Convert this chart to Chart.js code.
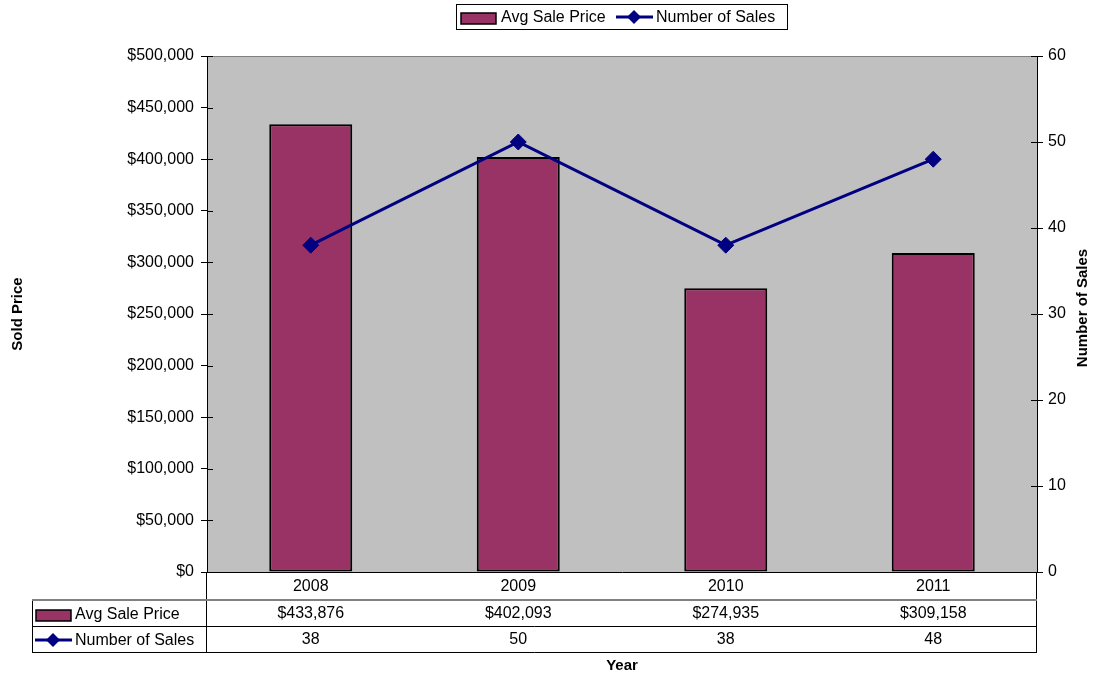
<!DOCTYPE html>
<html>
<head>
<meta charset="utf-8">
<script src="https://cdn.jsdelivr.net/npm/chart.js@4/dist/chart.umd.min.js"></script>
<style>
  html, body { margin: 0; padding: 0; background: #ffffff; }
  #wrap { width: 1094px; height: 679px; position: relative; }
  canvas { display: block; }
</style>
</head>
<body>
<div id="wrap"><canvas id="chart" width="1094" height="679"></canvas></div>
<script>
// Yearly sales figures
const years = ['2008', '2009', '2010', '2011'];
const avgSalePrice = [433876, 402093, 274935, 309158];
const numberOfSales = [38, 50, 38, 48];

const priceLabel = 'Avg Sale Price';
const salesLabel = 'Number of Sales';
const priceAxisTitle = 'Sold Price';
const salesAxisTitle = 'Number of Sales';
const yearAxisTitle = 'Year';

const BAR_COLOR = '#993366';
const LINE_COLOR = '#000080';
const PLOT_BG = '#C0C0C0';
const FONT = '"Liberation Sans", Arial, sans-serif';

const money = v => '$' + Math.round(v).toLocaleString('en-US');

function diamond(ctx, x, y, r) {
  ctx.beginPath();
  ctx.moveTo(x, y - r);
  ctx.lineTo(x + r, y);
  ctx.lineTo(x, y + r);
  ctx.lineTo(x - r, y);
  ctx.closePath();
  ctx.fillStyle = LINE_COLOR;
  ctx.fill();
}

function crisp(v) { return Math.round(v) + 0.5; }

// Grey plot background and top frame line
const plotBackground = {
  id: 'plotBackground',
  beforeDraw(chart) {
    const { ctx, chartArea: a } = chart;
    ctx.save();
    ctx.fillStyle = PLOT_BG;
    ctx.fillRect(a.left, a.top, a.right - a.left, a.bottom - a.top);
    ctx.strokeStyle = '#808080';
    ctx.lineWidth = 1;
    ctx.beginPath();
    ctx.moveTo(a.left, crisp(a.top));
    ctx.lineTo(a.right, crisp(a.top));
    ctx.stroke();
    ctx.restore();
  }
};

// Legend box, axis titles, inner tick marks and the data table under the plot
const decorations = {
  id: 'decorations',
  afterDraw(chart) {
    const { ctx, chartArea: a } = chart;
    const xs = chart.scales.x;
    const yl = chart.scales.y;
    const yr = chart.scales.y1;
    ctx.save();

    // inner halves of the tick marks
    ctx.strokeStyle = '#000';
    ctx.lineWidth = 1;
    ctx.beginPath();
    yl.ticks.forEach(t => {
      const y = crisp(yl.getPixelForValue(t.value));
      ctx.moveTo(a.left, y); ctx.lineTo(a.left + 6, y);
    });
    yr.ticks.forEach(t => {
      const y = crisp(yr.getPixelForValue(t.value));
      ctx.moveTo(a.right - 6, y); ctx.lineTo(a.right, y);
    });
    ctx.stroke();

    // data table
    const tableLeft = 32;
    const row1 = a.bottom + 28;   // below the year row
    const row2 = row1 + 26;
    const row3 = row2 + 26;

    ctx.strokeStyle = '#000';
    ctx.lineWidth = 1;
    ctx.beginPath();
    ctx.moveTo(crisp(tableLeft), row1); ctx.lineTo(crisp(tableLeft), crisp(row3));
    ctx.moveTo(crisp(a.left) - 1, a.bottom); ctx.lineTo(crisp(a.left) - 1, crisp(row3));
    ctx.moveTo(crisp(a.right) - 1, a.bottom); ctx.lineTo(crisp(a.right) - 1, crisp(row3));
    ctx.moveTo(tableLeft, crisp(row2)); ctx.lineTo(a.right, crisp(row2));
    ctx.moveTo(tableLeft, crisp(row3)); ctx.lineTo(a.right, crisp(row3));
    ctx.stroke();
    ctx.strokeStyle = '#808080';
    ctx.lineWidth = 2;
    ctx.beginPath();
    ctx.moveTo(tableLeft, row1); ctx.lineTo(a.right, row1);
    ctx.stroke();

    ctx.fillStyle = '#000';
    ctx.font = '16px ' + FONT;
    ctx.textAlign = 'center';
    ctx.textBaseline = 'middle';
    years.forEach((yr_, i) => {
      const cx = xs.getPixelForValue(i);
      ctx.fillText(yr_, cx, a.bottom + 15);
      ctx.fillText(money(avgSalePrice[i]), cx, row1 + 14);
      ctx.fillText(String(numberOfSales[i]), cx, row2 + 14);
    });

    // series keys in the table's first column
    ctx.fillStyle = BAR_COLOR;
    ctx.fillRect(36, row1 + 10, 35, 11);
    ctx.strokeStyle = '#000';
    ctx.lineWidth = 1.5;
    ctx.strokeRect(36, row1 + 10, 35, 11);
    ctx.strokeStyle = LINE_COLOR;
    ctx.lineWidth = 3;
    ctx.beginPath();
    ctx.moveTo(35, row2 + 14); ctx.lineTo(72, row2 + 14);
    ctx.stroke();
    diamond(ctx, 53, row2 + 14, 7);
    ctx.fillStyle = '#000';
    ctx.textAlign = 'left';
    ctx.fillText(priceLabel, 75, row1 + 15);
    ctx.fillText(salesLabel, 75, row2 + 15);

    // top legend
    ctx.fillStyle = '#fff';
    ctx.fillRect(456, 4, 331, 25);
    ctx.strokeStyle = '#000';
    ctx.lineWidth = 1;
    ctx.strokeRect(456.5, 4.5, 331, 25);
    ctx.fillStyle = BAR_COLOR;
    ctx.fillRect(461, 13, 35, 11);
    ctx.lineWidth = 1.5;
    ctx.strokeRect(461, 13, 35, 11);
    ctx.strokeStyle = LINE_COLOR;
    ctx.lineWidth = 3;
    ctx.beginPath();
    ctx.moveTo(616, 17); ctx.lineTo(653, 17);
    ctx.stroke();
    diamond(ctx, 634, 17, 7);
    ctx.fillStyle = '#000';
    ctx.textAlign = 'left';
    ctx.fillText(priceLabel, 501, 18);
    ctx.fillText(salesLabel, 656, 18);

    // axis titles
    ctx.font = 'bold 15px ' + FONT;
    ctx.textAlign = 'center';
    ctx.fillText(yearAxisTitle, xs.left + (xs.right - xs.left) / 2, 666);
    const midY = (a.top + a.bottom) / 2;
    ctx.save();
    ctx.translate(18, midY);
    ctx.rotate(-Math.PI / 2);
    ctx.fillText(priceAxisTitle, 0, 0);
    ctx.restore();
    ctx.save();
    ctx.translate(1083, midY - 6);
    ctx.rotate(-Math.PI / 2);
    ctx.fillText(salesAxisTitle, 0, 0);
    ctx.restore();

    ctx.restore();
  }
};

new Chart(document.getElementById('chart'), {
  data: {
    labels: years,
    datasets: [
      {
        type: 'line',
        label: salesLabel,
        data: numberOfSales,
        yAxisID: 'y1',
        borderColor: LINE_COLOR,
        borderWidth: 3,
        pointStyle: 'rectRot',
        pointRadius: 8,
        pointBackgroundColor: LINE_COLOR,
        pointBorderColor: LINE_COLOR,
        pointBorderWidth: 1,
        tension: 0,
        order: 1
      },
      {
        type: 'bar',
        label: priceLabel,
        data: avgSalePrice,
        yAxisID: 'y',
        backgroundColor: BAR_COLOR,
        borderColor: '#000',
        borderWidth: 2,
        borderSkipped: false,
        barPercentage: 0.4,
        categoryPercentage: 1,
        order: 2
      }
    ]
  },
  options: {
    responsive: false,
    animation: false,
    layout: { padding: { top: 56, left: 0, right: 0, bottom: 0 } },
    plugins: { legend: { display: false }, tooltip: { enabled: false } },
    scales: {
      x: {
        type: 'category',
        offset: true,
        grid: { display: false },
        border: { display: true, color: '#000', width: 1 },
        ticks: { display: false },
        afterFit(scale) { scale.height = 107; }
      },
      y: {
        position: 'left',
        min: 0,
        max: 500000,
        grid: { display: true, drawOnChartArea: false, drawTicks: true, tickLength: 6, color: '#000', tickColor: '#000' },
        border: { display: true, color: '#000', width: 1 },
        ticks: {
          stepSize: 50000,
          padding: 7,
          color: '#000',
          font: { family: FONT, size: 16 },
          callback: v => money(v)
        },
        afterFit(scale) { scale.width = 207; }
      },
      y1: {
        position: 'right',
        min: 0,
        max: 60,
        grid: { display: true, drawOnChartArea: false, drawTicks: true, tickLength: 6, color: '#000', tickColor: '#000' },
        border: { display: true, color: '#000', width: 1 },
        ticks: {
          stepSize: 10,
          padding: 5,
          color: '#000',
          font: { family: FONT, size: 16 }
        },
        afterFit(scale) { scale.width = 57; }
      }
    }
  },
  plugins: [plotBackground, decorations]
});
</script>
</body>
</html>
